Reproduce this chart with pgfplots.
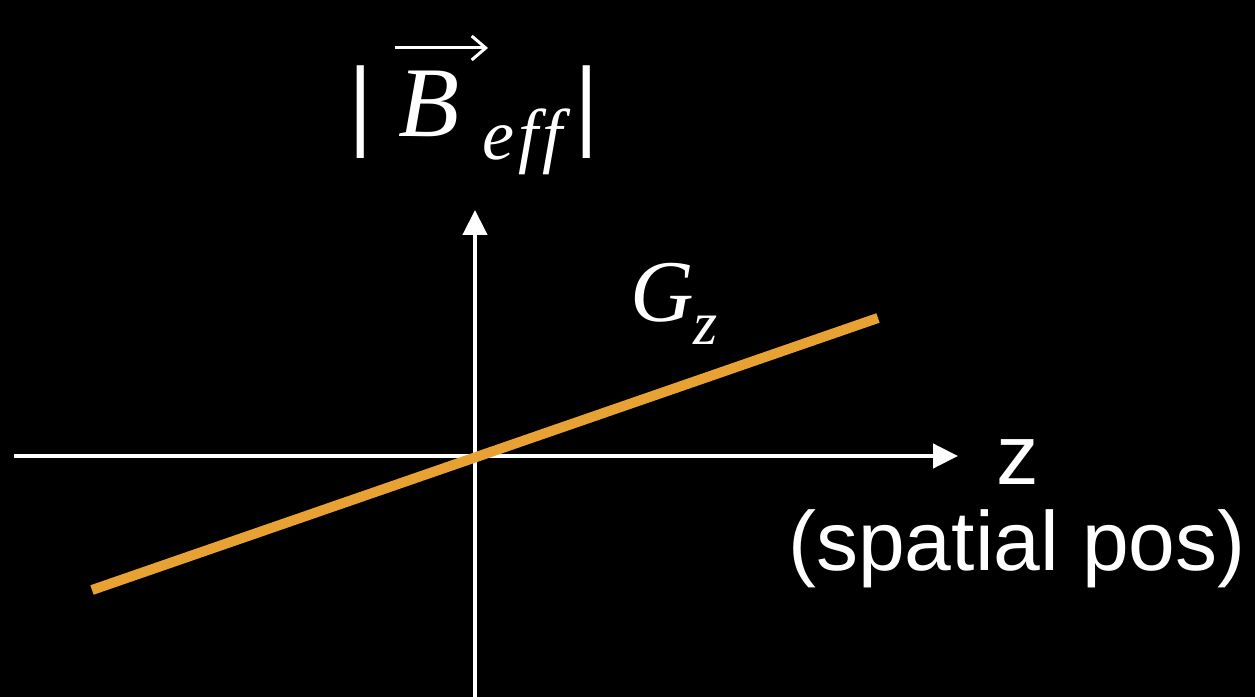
\documentclass[border=0pt]{standalone}
\usepackage{fontspec}
\setmainfont{Liberation Serif}
\newfontfamily\arialfont{Liberation Sans}
\usepackage{pgfplots}
\pgfplotsset{compat=1.18}
\usetikzlibrary{arrows.meta}
\definecolor{gzorange}{RGB}{232,162,52}
\begin{document}
\begin{tikzpicture}
\begin{axis}[
  x=1pt, y=1pt, scale only axis,
  xmin=0, xmax=1255, ymin=0, ymax=697,
  hide axis, clip=false,
]
\fill[black] (rel axis cs:0,0) rectangle (rel axis cs:1,1);
% axes
\addplot[white, line width=4.5pt, -{Triangle[length=25pt,width=24pt]}] coordinates {(14,241) (958,241)};
\addplot[white, line width=4.5pt, -{Triangle[length=25pt,width=24pt]}] coordinates {(475,0) (475,487)};
% G_z line
\addplot[gzorange, line width=10pt] coordinates {(92,107) (878,379)};
% vector arrow over B
\addplot[white, line width=3pt, -{Straight Barb[length=14pt,width=24pt]}] coordinates {(395,649) (488,649)};
% labels
\node[anchor=base, inner sep=0, font=\fontsize{102}{102}\selectfont\bfseries, white] at (axis cs:361,560) {|};
\node[anchor=base west, inner sep=0, font=\fontsize{100}{100}\selectfont\itshape, white] at (axis cs:398,560) {B};
\node[anchor=base west, inner sep=0, font=\fontsize{72}{72}\selectfont\itshape\addfontfeature{LetterSpace=6}, white] at (axis cs:482,537) {eff};
\node[anchor=base, inner sep=0, font=\fontsize{102}{102}\selectfont\bfseries, white] at (axis cs:587,560) {|};
\node[anchor=base west, inner sep=0, font=\fontsize{88}{88}\selectfont\itshape, white] at (axis cs:630,375) {G};
\node[anchor=base west, inner sep=0, font=\fontsize{62}{62}\selectfont\itshape, white] at (axis cs:693,352) {z};
\node[anchor=base west, inner sep=0, font=\fontsize{85}{85}\selectfont\arialfont, white] at (axis cs:996,212) {z};
\node[anchor=base east, inner sep=0, font=\fontsize{84}{84}\selectfont\arialfont, white] at (axis cs:1246,127) {(spatial pos)};
\end{axis}
\end{tikzpicture}
\end{document}
